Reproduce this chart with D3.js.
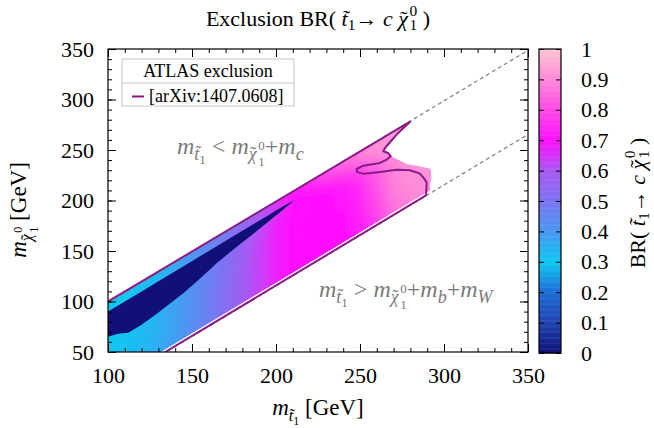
<!DOCTYPE html>
<html>
<head>
<meta charset="utf-8">
<script src="https://cdn.jsdelivr.net/npm/d3@7"></script>
<style>
  body { margin: 0; background: #fff; }
  svg { display: block; font-family: 'Liberation Serif', 'Times New Roman', serif; }
</style>
</head>
<body>
<svg width="654" height="428"></svg>
<script>
// ---- data ----
// BR grid: columns are stop masses, rows are mass splittings dm = m_stop - m_chi
const gridX = [100, 110, 120, 130, 140, 150, 160, 170, 180, 190, 200, 210, 220, 230, 240, 250, 260, 270, 280, 290];
const gridDm = [3, 9, 16, 25, 40, 60, 78];
const brDm3 = [0.30, 0.30, 0.31, 0.33, 0.36, 0.40, 0.44, 0.48, 0.53, 0.58, 0.64, 0.70, 0.76, 0.82, 0.86, 0.89, 0.92, 0.94, 0.95, 0.95];
const brDm9 = [0.30, 0.31, 0.32, 0.34, 0.37, 0.41, 0.45, 0.49, 0.54, 0.60, 0.66, 0.70, 0.72, 0.77, 0.82, 0.87, 0.91, 0.93, 0.94, 0.94];
const brDm16 = [0.30, 0.31, 0.32, 0.34, 0.37, 0.41, 0.45, 0.50, 0.55, 0.61, 0.67, 0.70, 0.70, 0.72, 0.76, 0.83, 0.89, 0.92, 0.93, 0.93];
const brDm25 = [0.30, 0.31, 0.32, 0.34, 0.37, 0.41, 0.46, 0.51, 0.56, 0.62, 0.68, 0.70, 0.70, 0.70, 0.72, 0.77, 0.85, 0.90, 0.92, 0.93];
const brDm40 = [0.30, 0.31, 0.33, 0.35, 0.38, 0.42, 0.46, 0.51, 0.57, 0.63, 0.68, 0.70, 0.70, 0.70, 0.71, 0.74, 0.82, 0.89, 0.92, 0.93];
const brDm60 = [0.30, 0.31, 0.33, 0.35, 0.38, 0.42, 0.47, 0.52, 0.58, 0.63, 0.68, 0.70, 0.70, 0.70, 0.70, 0.73, 0.80, 0.88, 0.91, 0.92];
const brDm78 = [0.30, 0.32, 0.34, 0.36, 0.39, 0.43, 0.47, 0.52, 0.58, 0.63, 0.68, 0.70, 0.70, 0.70, 0.70, 0.72, 0.78, 0.86, 0.90, 0.91];
const brRows = [brDm3, brDm9, brDm16, brDm25, brDm40, brDm60, brDm78];

// BR = 0 wedge: stop mass, upper and lower dm edges
const zeroX = [100, 106, 112, 120, 130, 140, 145, 155, 165, 175, 185, 195, 204, 211];
const zeroDmTop = [10, 10, 10, 10, 10, 10, 10, 10, 10, 10, 10, 10, 10, 10.5];
const zeroDmBottom = [35, 38, 43, 43, 41, 38, 36.6, 32, 26.7, 23, 20, 16.5, 13.4, 10.5];

// outline of the scanned region
const regionX = [100, 279.5, 271.8, 264.9, 263.9, 266.8, 268.3, 273, 278, 284, 288, 292, 292.5, 291.5, 292, 131.5, 100];
const regionY = [99.5, 277.5, 265.3, 252, 248.7, 247, 243.8, 240, 236, 234.5, 233, 231.5, 222, 215, 210.5, 50, 50];

// ATLAS exclusion contour
const atlasX = [100, 279.8, 271.8, 264.9, 263.9, 266.8, 268.3, 265.9, 261.9, 252, 248, 248.4, 252, 262, 271.8, 279.8, 285.7, 288.7, 289.7, 289.3, 134];
const atlasY = [100, 278, 265.3, 252, 248.7, 247, 243.8, 240.5, 237.2, 234.5, 231.2, 227.9, 226.6, 228.3, 230.5, 229.9, 226.6, 220.6, 217.4, 205, 50];

// kinematic limits: m_chi = m_stop - dm
const kinDm = [1.3, 84.6];

const xTicks = [100, 150, 200, 250, 300, 350];
const yTicks = [50, 100, 150, 200, 250, 300, 350];
const cbTicks = [0, 0.1, 0.2, 0.3, 0.4, 0.5, 0.6, 0.7, 0.8, 0.9, 1];
const cbTickLabels = ['0', '0.1', '0.2', '0.3', '0.4', '0.5', '0.6', '0.7', '0.8', '0.9', '1'];
const paletteStops = [0, 0.1, 0.2, 0.3, 0.4, 0.5, 0.6, 0.7, 0.8, 0.9, 1];
const paletteColors = ['#101078', '#2244b0', '#1e6cd6', '#0ec8f2', '#4898f2', '#7c74f2', '#a858f2', '#ff10ff', '#ff48e6', '#ff88d8', '#ffc4d4'];

// ---- setup ----
const svg = d3.select('svg');
const serif = "'Liberation Serif', 'Times New Roman', serif";
const x = d3.scaleLinear().domain([100, 350]).range([108, 528]);
const y = d3.scaleLinear().domain([50, 350]).range([352, 49]);
const cb = d3.scaleLinear().domain([0, 1]).range([353, 49]);
const color = d3.scaleLinear().domain(paletteStops).range(paletteColors).interpolate(d3.interpolateRgb);
const purple = '#8b1a89';
const grey = '#7a7a7a';

const defs = svg.append('defs');
defs.append('clipPath').attr('id', 'plot-clip')
  .append('rect').attr('x', 108).attr('y', 49).attr('width', 420).attr('height', 303);
const regionPts = regionX.map((d, i) => [x(d), y(regionY[i])]);
defs.append('clipPath').attr('id', 'region-clip')
  .append('path').attr('d', d3.line()(regionPts) + 'Z');
defs.append('filter').attr('id', 'soft')
  .attr('filterUnits', 'userSpaceOnUse')
  .attr('x', 0).attr('y', 0).attr('width', 654).attr('height', 428)
  .append('feGaussianBlur').attr('stdDeviation', '7 4');

// ---- heat map ----
const cells = [];
brRows.forEach((row, j) => {
  const d0 = j === 0 ? -15 : (gridDm[j - 1] + gridDm[j]) / 2;
  const d1 = j === gridDm.length - 1 ? 110 : (gridDm[j] + gridDm[j + 1]) / 2;
  row.forEach((v, i) => {
    const x0 = i === 0 ? 80 : gridX[i] - 5;
    const x1 = i === gridX.length - 1 ? 315 : gridX[i] + 5;
    cells.push({ v, pts: [[x0, x0 - d0], [x1, x1 - d0], [x1, x1 - d1], [x0, x0 - d1]] });
  });
});
const heat = svg.append('g').attr('clip-path', 'url(#region-clip)')
  .append('g').attr('filter', 'url(#soft)');
const toPx = d3.line().x((p) => x(p[0])).y((p) => y(p[1]));
heat.selectAll('path')
  .data(cells)
  .enter()
  .append('path')
  .attr('d', (d) => toPx(d.pts) + 'Z')
  .attr('fill', (d) => color(d.v))
  .attr('stroke', (d) => color(d.v))
  .attr('stroke-width', 1);

// BR = 0 wedge
const zeroPts = zeroX.map((d, i) => [d, d - zeroDmTop[i]])
  .concat(zeroX.map((d, i) => [d, d - zeroDmBottom[i]]).reverse());
svg.append('path')
  .attr('clip-path', 'url(#region-clip)')
  .attr('d', toPx(zeroPts) + 'Z')
  .attr('fill', color(0));

// kinematic limits
const lines = svg.append('g').attr('clip-path', 'url(#plot-clip)');
kinDm.forEach((dm) => {
  lines.append('path')
    .attr('d', toPx([[100, 100 - dm], [360, 360 - dm]]))
    .attr('fill', 'none')
    .attr('stroke', '#888')
    .attr('stroke-width', 1.3)
    .attr('stroke-dasharray', '4,3');
});

// ATLAS contour
lines.append('path')
  .attr('d', toPx(atlasX.map((d, i) => [d, atlasY[i]])))
  .attr('fill', 'none')
  .attr('stroke', purple)
  .attr('stroke-width', 2)
  .attr('stroke-linejoin', 'round');

// ---- text helper: parts with size, baseline shift, italic, dx ----
function rich(sel, parts) {
  let cur = 0;
  parts.forEach((p) => {
    const t = sel.append('tspan')
      .attr('dy', (p.sh || 0) - cur)
      .style('font-size', `${p.fs}px`)
      .style('font-style', p.it ? 'italic' : 'normal')
      .text(p.t);
    if (p.dx) t.attr('dx', p.dx);
    cur = p.sh || 0;
  });
  return sel;
}
// chi with a tilde laid over it, then stacked ^0 and _1
const chiTilde = (fs, sh, small, supSh, subSh) => [
  { t: 'χ', fs, sh, it: true },
  { t: '˜', fs, sh, dx: -fs * 0.36 },
  { t: '0', fs: small, sh: supSh, dx: fs * 0.06 + 1 },
  { t: '1', fs: small, sh: subSh, dx: -small * 0.5 },
];
const stopSub = (sub, small) => [
  { t: 't̃', fs: sub, sh: 6, it: true },
  { t: '1', fs: small, sh: 10 },
];

// annotations
rich(svg.append('text').attr('x', 177).attr('y', 154).attr('fill', grey), [
  { t: 'm', fs: 24, it: true },
  ...stopSub(18, 13),
  { t: ' < ', fs: 24, sh: 0 },
  { t: 'm', fs: 24, it: true },
  ...chiTilde(18, 6, 13, -4, 12),
  { t: '+', fs: 24, sh: 0 },
  { t: 'm', fs: 24, it: true },
  { t: 'c', fs: 18, sh: 6, it: true },
]);
rich(svg.append('text').attr('x', 319).attr('y', 297).attr('fill', grey), [
  { t: 'm', fs: 24, it: true },
  ...stopSub(18, 13),
  { t: ' > ', fs: 24, sh: 0 },
  { t: 'm', fs: 24, it: true },
  ...chiTilde(18, 6, 13, -4, 12),
  { t: '+', fs: 24, sh: 0 },
  { t: 'm', fs: 24, it: true },
  { t: 'b', fs: 18, sh: 6, it: true },
  { t: '+', fs: 24, sh: 0 },
  { t: 'm', fs: 24, it: true },
  { t: 'W', fs: 18, sh: 6, it: true },
]);

// legend
const legend = svg.append('g');
legend.append('rect').attr('x', 122).attr('y', 59).attr('width', 172).attr('height', 47)
  .attr('fill', '#fff').attr('stroke', '#c8c8c8');
legend.append('line').attr('x1', 122).attr('x2', 294).attr('y1', 83).attr('y2', 83).attr('stroke', '#c8c8c8');
legend.append('text').attr('x', 208).attr('y', 77).attr('text-anchor', 'middle')
  .style('font-size', '18px').text('ATLAS exclusion');
legend.append('line').attr('x1', 132).attr('x2', 144).attr('y1', 96.5).attr('y2', 96.5)
  .attr('stroke', purple).attr('stroke-width', 2);
legend.append('text').attr('x', 149).attr('y', 102)
  .style('font-size', '18px').text('[arXiv:1407.0608]');

// ---- axes ----
function styleAxis(g) {
  g.attr('font-family', serif).attr('font-size', 22);
  g.select('.domain').remove();
  g.selectAll('text').attr('fill', '#000').style('font-family', serif);
}
const minorX = d3.range(100, 351, 10);
const minorY = d3.range(50, 351, 10);
svg.append('g').attr('transform', 'translate(0,352)')
  .call(d3.axisBottom(x).tickValues(xTicks).tickSize(-8).tickPadding(15)).call(styleAxis);
svg.append('g').attr('transform', 'translate(0,352)')
  .call(d3.axisBottom(x).tickValues(minorX).tickSize(-4).tickFormat('')).call(styleAxis);
svg.append('g').attr('transform', 'translate(0,49)')
  .call(d3.axisTop(x).tickValues(xTicks).tickSize(-8).tickFormat('')).call(styleAxis);
svg.append('g').attr('transform', 'translate(0,49)')
  .call(d3.axisTop(x).tickValues(minorX).tickSize(-4).tickFormat('')).call(styleAxis);
svg.append('g').attr('transform', 'translate(108,0)')
  .call(d3.axisLeft(y).tickValues(yTicks).tickSize(-8).tickPadding(14)).call(styleAxis);
svg.append('g').attr('transform', 'translate(108,0)')
  .call(d3.axisLeft(y).tickValues(minorY).tickSize(-4).tickFormat('')).call(styleAxis);
svg.append('g').attr('transform', 'translate(528,0)')
  .call(d3.axisRight(y).tickValues(yTicks).tickSize(-8).tickFormat('')).call(styleAxis);
svg.append('g').attr('transform', 'translate(528,0)')
  .call(d3.axisRight(y).tickValues(minorY).tickSize(-4).tickFormat('')).call(styleAxis);
svg.append('rect').attr('x', 108).attr('y', 49).attr('width', 420).attr('height', 303)
  .attr('fill', 'none').attr('stroke', '#000').attr('stroke-width', 1.2);

// ---- colour bar ----
const steps = d3.range(0, 1, 0.004);
svg.append('g').selectAll('rect')
  .data(steps)
  .enter()
  .append('rect')
  .attr('x', 539)
  .attr('width', 22)
  .attr('y', (d) => cb(d + 0.004))
  .attr('height', (d) => cb(d) - cb(d + 0.004) + 0.5)
  .attr('fill', (d) => color(d + 0.002));
svg.append('g').attr('transform', 'translate(561,0)')
  .call(d3.axisRight(cb).tickValues(cbTicks).tickSize(-5).tickPadding(20)
    .tickFormat((d, i) => cbTickLabels[i])).call(styleAxis);
svg.append('g').attr('transform', 'translate(539,0)')
  .call(d3.axisLeft(cb).tickValues(cbTicks).tickSize(-5).tickFormat('')).call(styleAxis);
svg.append('rect').attr('x', 539).attr('y', 49).attr('width', 22).attr('height', 304)
  .attr('fill', 'none').attr('stroke', '#000').attr('stroke-width', 1.2);

// ---- titles ----
const brParts = (fs) => [
  { t: 'BR( ', fs },
  { t: 't̃', fs, it: true },
  { t: '1', fs: fs * 0.7, sh: 4 },
  { t: '→ ', fs, sh: 0 },
  { t: 'c', fs, it: true },
  { t: ' ', fs },
  ...chiTilde(fs, 0, fs * 0.7, -10, 4),
  { t: ' )', fs, sh: 0 },
];
rich(svg.append('text').attr('x', 318).attr('y', 26).attr('text-anchor', 'middle'),
  [{ t: 'Exclusion ', fs: 22 }, ...brParts(22)]);
rich(svg.append('text').attr('transform', 'translate(645,203) rotate(-90)').attr('text-anchor', 'middle'),
  brParts(22));

rich(svg.append('text').attr('x', 318).attr('y', 415).attr('text-anchor', 'middle'), [
  { t: 'm', fs: 23, it: true },
  ...stopSub(16, 12),
  { t: ' [GeV]', fs: 23, sh: 0 },
]);
rich(svg.append('text').attr('transform', 'translate(26,210) rotate(-90)').attr('text-anchor', 'middle'), [
  { t: 'm', fs: 23, it: true },
  ...chiTilde(16, 6, 12, -4, 12),
  { t: ' [GeV]', fs: 23, sh: 0 },
]);
</script>
</body>
</html>
